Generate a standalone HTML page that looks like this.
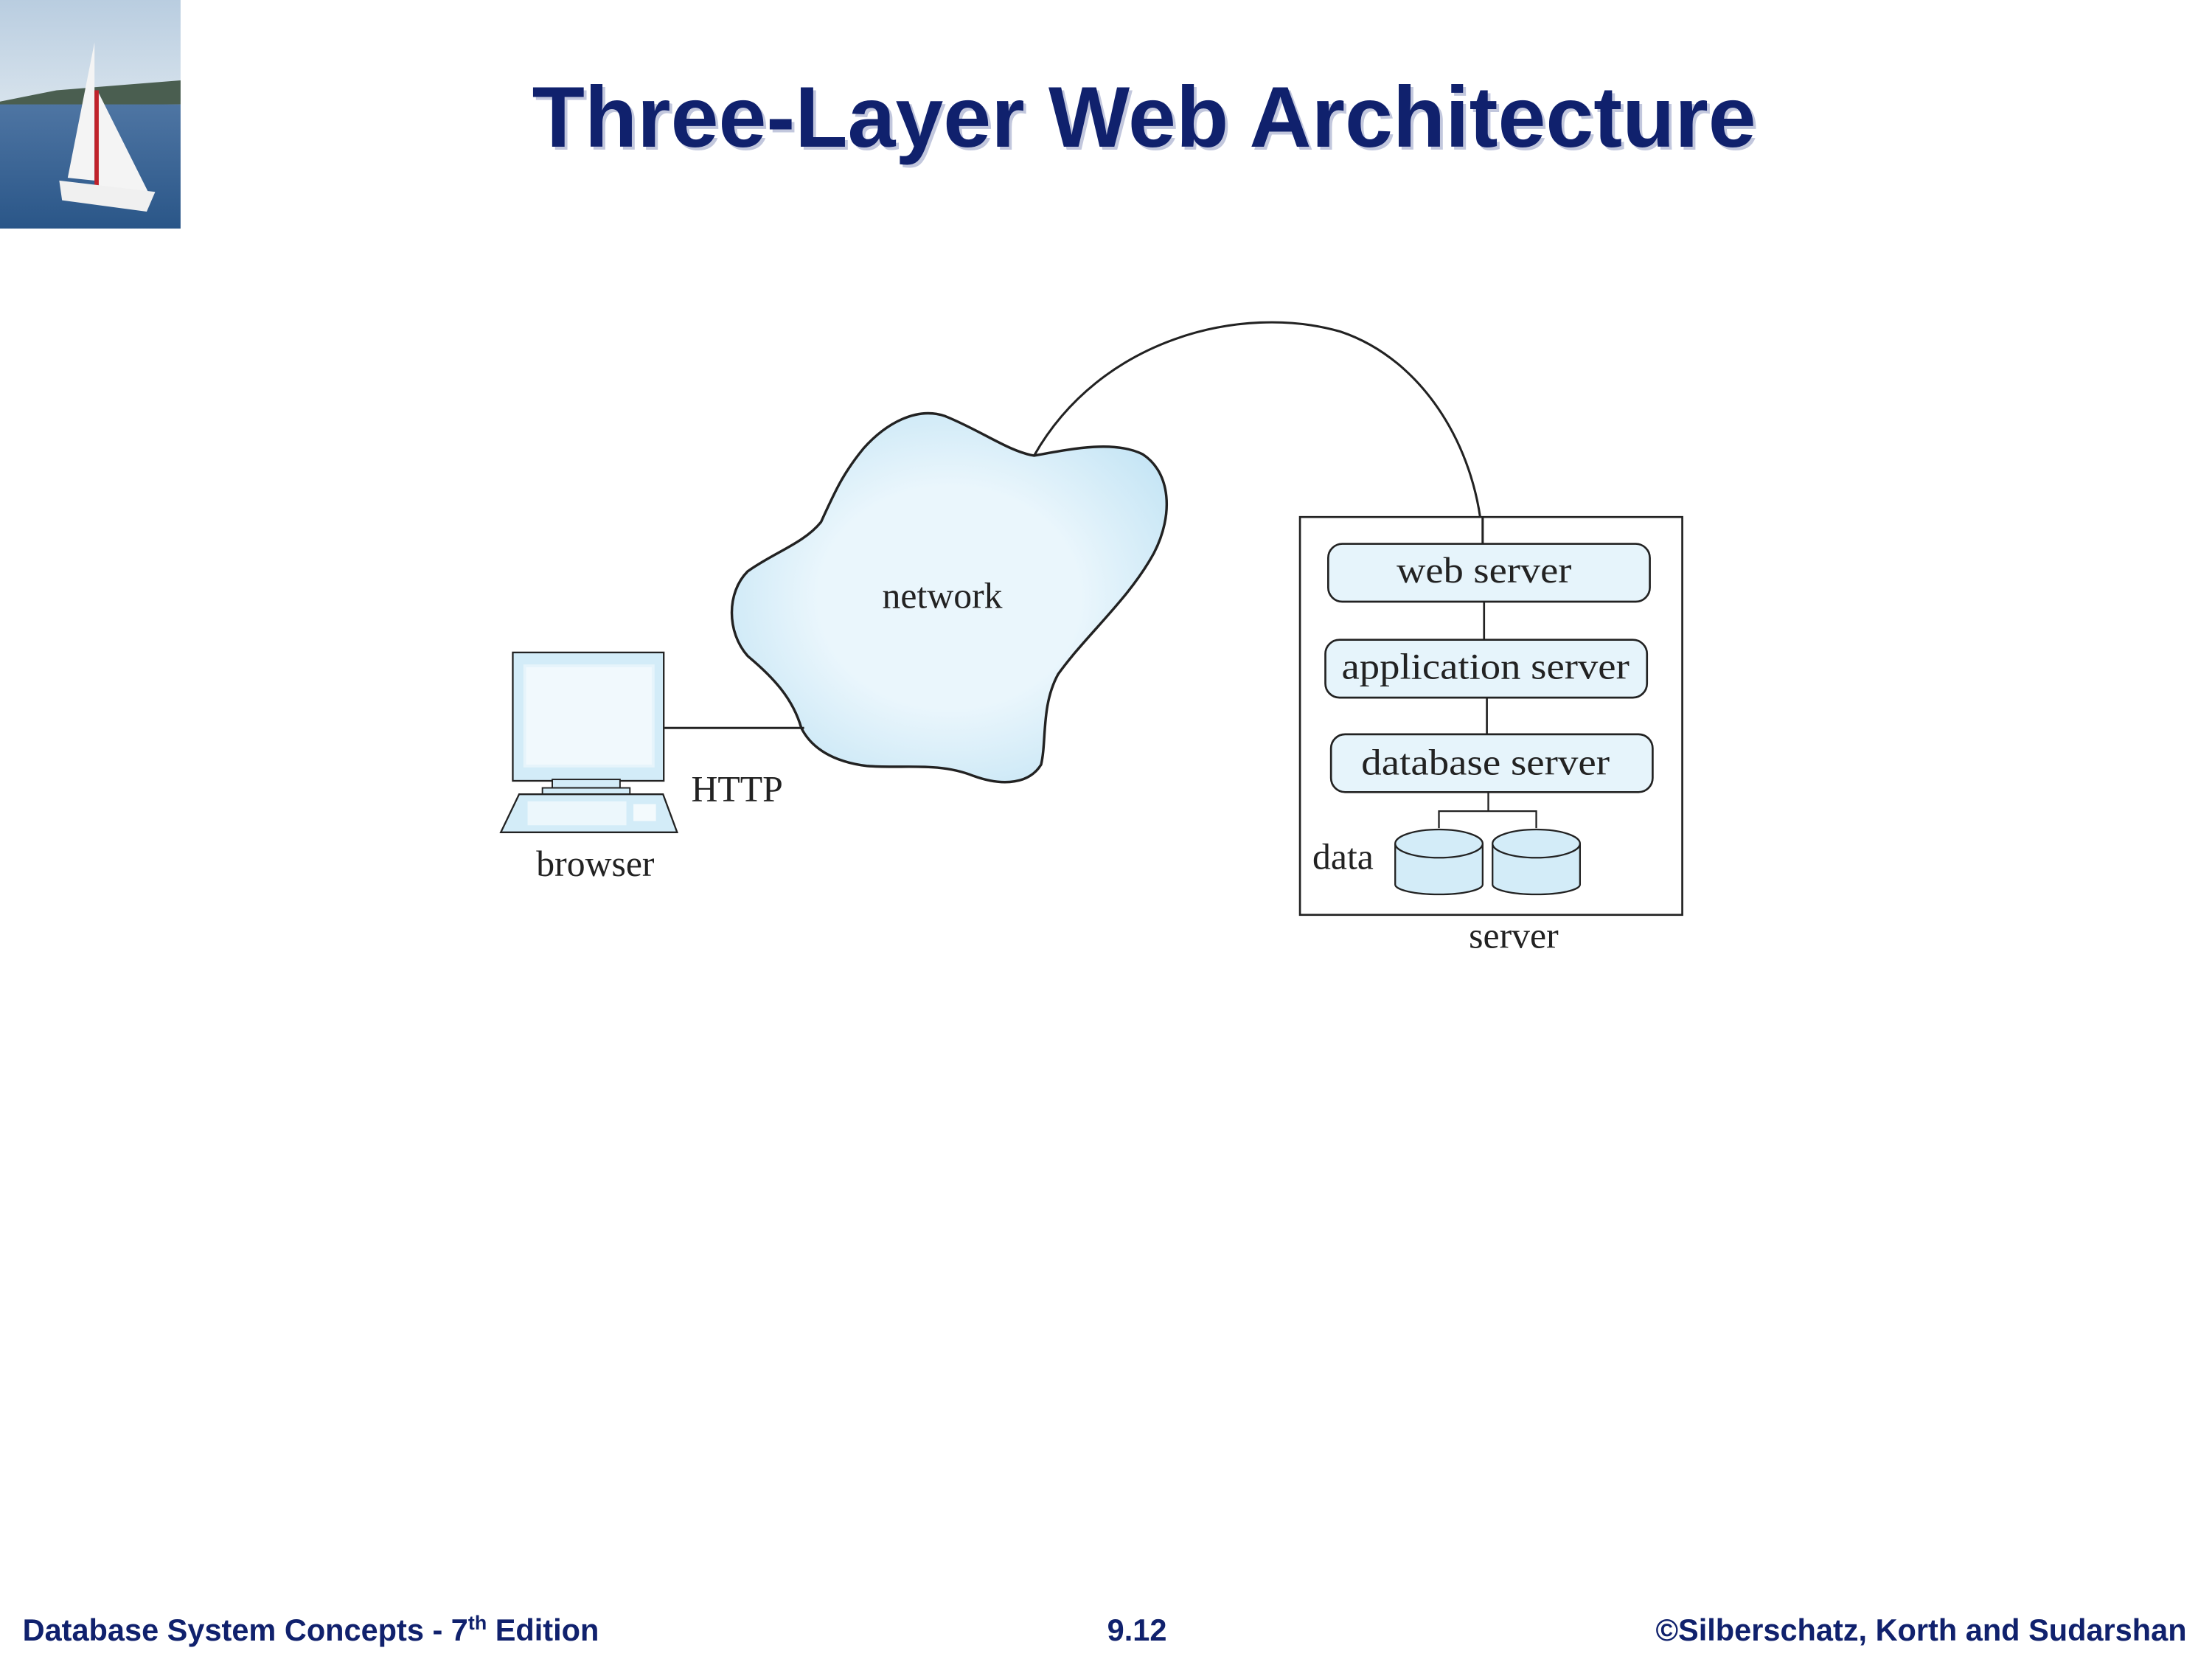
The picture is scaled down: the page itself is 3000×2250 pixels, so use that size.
<!DOCTYPE html>
<html><head><meta charset="utf-8"><style>
html,body{margin:0;padding:0;background:#fff;width:3000px;height:2250px;overflow:hidden}
svg{display:block}
</style></head><body>
<svg width="3000" height="2250" viewBox="0 0 1568 1176" preserveAspectRatio="none" xmlns="http://www.w3.org/2000/svg">
<defs>
<linearGradient id="sky" x1="0" y1="0" x2="0" y2="1"><stop offset="0" stop-color="#b9cde0"/><stop offset="1" stop-color="#d6e2ec"/></linearGradient>
<linearGradient id="sea" x1="0" y1="0" x2="0" y2="1"><stop offset="0" stop-color="#4e75a3"/><stop offset="1" stop-color="#2a5688"/></linearGradient>
<radialGradient id="cl" cx="0.5" cy="0.5" r="0.6"><stop offset="0.5" stop-color="#eaf6fc"/><stop offset="1" stop-color="#c5e5f5"/></radialGradient>
</defs>
<rect x="0" y="0" width="128" height="72" fill="url(#sky)"/>
<path d="M0 72 L40 64 L90 60 L128 57 L128 74 L0 76Z" fill="#4a5e50"/>
<rect x="0" y="74" width="128" height="88" fill="url(#sea)"/>
<path d="M67 30 L48 126 L67 128Z" fill="#f4f4f4"/>
<path d="M69 64 L69 132 L106 138Z" fill="#f4f4f4"/>
<rect x="67" y="64" width="3" height="68" fill="#c0222a"/>
<path d="M42 128 L110 136 L104 150 L44 142Z" fill="#f0f0f0"/>
<text x="811" y="104" text-anchor="middle" font-family="Liberation Sans, sans-serif" font-weight="bold" font-size="61" fill="#9aa3c8" opacity="0.6" transform="translate(2,2)">Three-Layer Web Architecture</text>
<text x="811" y="104" text-anchor="middle" font-family="Liberation Sans, sans-serif" font-weight="bold" font-size="61" fill="#10216d">Three-Layer Web Architecture</text>
<path d="M733 323 C780 240 880 215 950 235 C1010 255 1048 320 1051 385" fill="none" stroke="#222" stroke-width="1.6"/>
<path d="M733 323 C760 318 790 312 810 322 C830 335 832 365 818 392 C800 425 770 450 750 478 C738 500 742 525 738 542 C730 555 712 558 690 550 C665 540 640 545 615 543 C590 540 575 530 568 516 C562 495 548 480 530 465 C515 448 515 420 530 405 C548 392 570 385 582 370 C592 348 598 335 612 318 C628 300 650 288 670 295 C695 305 715 320 733 323Z" fill="url(#cl)" stroke="#222" stroke-width="1.8"/>
<text x="668" y="431" text-anchor="middle" font-family="Liberation Serif, serif" font-size="26" fill="#222">network</text>
<line x1="471" y1="516" x2="570" y2="516" stroke="#222" stroke-width="1.6"/>
<rect x="363.5" y="462.5" width="107" height="91" fill="#d3ecf8" stroke="#222" stroke-width="1.2"/>
<rect x="372" y="472" width="91" height="71" fill="#f1f9fd" stroke="#e6f4fb" stroke-width="2"/>
<rect x="391.5" y="552.5" width="48" height="6" fill="#d3ecf8" stroke="#222" stroke-width="1"/>
<rect x="384.5" y="558.5" width="62" height="5" fill="#d3ecf8" stroke="#222" stroke-width="1"/>
<path d="M368 563 L470 563 L480 590 L355 590Z" fill="#d3ecf8" stroke="#222" stroke-width="1.2"/>
<rect x="374" y="568" width="70" height="17" fill="#ecf7fc"/>
<rect x="449" y="570" width="16" height="12" fill="#f3fafd"/>
<text x="490" y="568" font-family="Liberation Serif, serif" font-size="26" fill="#222">HTTP</text>
<text x="422" y="621" text-anchor="middle" font-family="Liberation Serif, serif" font-size="26" fill="#222">browser</text>
<rect x="921.5" y="366.5" width="271" height="282" fill="#fff" stroke="#222" stroke-width="1.4"/>
<line x1="1051" y1="366" x2="1051" y2="385" stroke="#222" stroke-width="1.6"/>
<line x1="1052" y1="427" x2="1052" y2="453" stroke="#222" stroke-width="1.4"/>
<line x1="1054" y1="495" x2="1054" y2="520" stroke="#222" stroke-width="1.4"/>
<rect x="941.5" y="385.5" width="228" height="41" rx="10" fill="#e6f4fb" stroke="#222" stroke-width="1.4"/>
<rect x="939.5" y="453.5" width="228" height="41" rx="10" fill="#e6f4fb" stroke="#222" stroke-width="1.4"/>
<rect x="943.5" y="520.5" width="228" height="41" rx="10" fill="#e6f4fb" stroke="#222" stroke-width="1.4"/>
<g font-family="Liberation Serif, serif" font-size="26" fill="#222" text-anchor="middle">
<text x="1052" y="413" textLength="124" lengthAdjust="spacingAndGlyphs">web server</text>
<text x="1053" y="481" textLength="204" lengthAdjust="spacingAndGlyphs">application server</text>
<text x="1053" y="549" textLength="176" lengthAdjust="spacingAndGlyphs">database server</text>
<text x="952" y="616">data</text>
<text x="1073" y="672">server</text>
</g>
<path d="M1055 562 L1055 575 M1020 587 L1020 575 L1089 575 L1089 587" fill="none" stroke="#222" stroke-width="1.2"/>
<g fill="#d3ecf8" stroke="#222" stroke-width="1.2">
<path d="M989 598 L989 627 A31 7 0 0 0 1051 627 L1051 598"/>
<ellipse cx="1020" cy="598" rx="31" ry="10"/>
<path d="M1058 598 L1058 627 A31 7 0 0 0 1120 627 L1120 598"/>
<ellipse cx="1089" cy="598" rx="31" ry="10"/>
</g>
<g font-family="Liberation Sans, sans-serif" font-weight="bold" font-size="21.7" fill="#10216d">
<text x="16" y="1163">Database System Concepts - 7<tspan font-size="14" dy="-8">th</tspan><tspan dy="8"> Edition</tspan></text>
<text x="806" y="1163" text-anchor="middle">9.12</text>
<text x="1550" y="1163" text-anchor="end">©Silberschatz, Korth and Sudarshan</text>
</g>
</svg>
</body></html>
